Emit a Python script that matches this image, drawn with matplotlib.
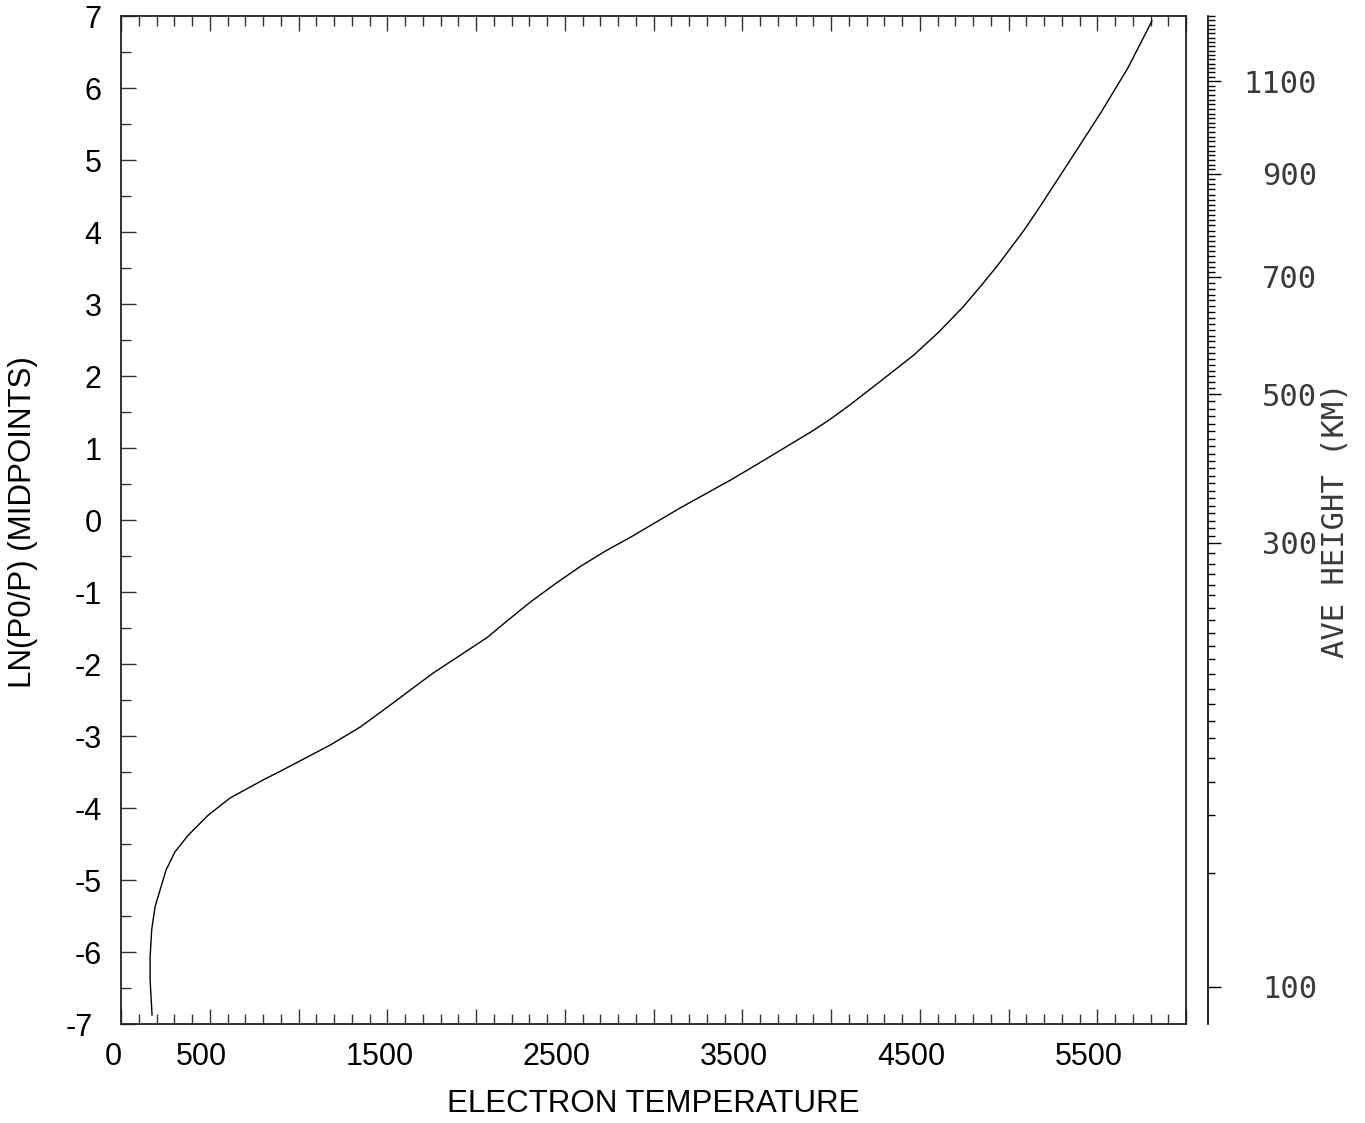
import numpy as np
import matplotlib
matplotlib.use("Agg")
import matplotlib.pyplot as plt
from matplotlib.transforms import ScaledTranslation

# curve: electron temperature vs ln(p0/p)
temp = [175, 164, 164, 173, 192, 220, 254, 304, 378, 491, 615, 801, 897,
        1179, 1348, 1517, 1647, 1759, 1929, 2064, 2176, 2306, 2450, 2588,
        2730, 2870, 3152, 3434, 3575, 3716, 3885, 3990, 4094, 4280, 4466,
        4607, 4748, 4844, 4940, 5086, 5182, 5369, 5521, 5673, 5808]
lnp = [-6.875, -6.39, -6.07, -5.69, -5.37, -5.14, -4.86, -4.61, -4.38, -4.10,
       -3.86, -3.61, -3.49, -3.125, -2.875, -2.57, -2.33, -2.125, -1.85, -1.63,
       -1.40, -1.14, -0.88, -0.645, -0.43, -0.24, 0.17, 0.555, 0.76, 0.97,
       1.22, 1.39, 1.575, 1.93, 2.29, 2.61, 2.97, 3.25, 3.54, 4.02, 4.37, 5.08,
       5.66, 6.28, 6.93]

# height scale (km) on the right, matched to ln(p0/p)
h_cal = [100, 110, 120, 130, 140, 150, 160, 170, 180, 190, 200, 220, 250,
         300, 500, 700, 900, 1100, 1250]
ln_cal = [-6.486, -4.903, -4.097, -3.639, -3.306, -3.028, -2.792, -2.556,
          -2.347, -2.139, -1.931, -1.569, -1.042, -0.319, 1.75, 3.375, 4.806,
          6.097, 7.0]
h_labels = [100, 300, 500, 700, 900, 1100]

x_labels = ['0', '500', '', '1500', '', '2500', '', '3500', '', '4500', '',
            '5500', '']

W, H = 1365, 1123
fig = plt.figure(figsize=(W / 100, H / 100), dpi=100)
ax = fig.add_axes([121 / W, 1 - 1024 / H, (1186 - 121) / W, (1024 - 16) / H])

sans = 'Liberation Sans'
mono = 'DejaVu Sans Mono'

ax.plot(temp, lnp, color='black', lw=1.0)
ax.set_xlim(0, 6000)
ax.set_ylim(-7, 7)

ax.set_xticks(np.arange(0, 6001, 500))
ax.set_xticks(np.arange(0, 6001, 100), minor=True)
ax.set_xticklabels(x_labels, fontsize=22, family=sans)
ax.set_yticks(np.arange(-7, 8, 1))
ax.set_yticks(np.arange(-7, 7.01, 0.5), minor=True)
ax.set_yticklabels([str(v) for v in range(-7, 8)], fontsize=22, family=sans)

ax.tick_params(which='both', direction='in', top=True, right=True,
               color='#333333', width=1.0)
ax.tick_params(which='major', length=11)
ax.tick_params(which='minor', length=7.5)
ax.tick_params(axis='x', pad=13)
ax.tick_params(axis='y', pad=14)
for s in ax.spines.values():
    s.set_linewidth(1.3)
    s.set_color('#222222')

shift = ScaledTranslation(-0.08, 0, fig.dpi_scale_trans)
for lab in ax.get_xticklabels():
    lab.set_transform(lab.get_transform() + shift)
# the bottom label sits a little further left
ylabs = ax.get_yticklabels()
ylabs[0].set_transform(ylabs[0].get_transform()
                       + ScaledTranslation(-0.09, 0, fig.dpi_scale_trans))

fig.text(653 / W, 1 - 1104 / H, 'ELECTRON TEMPERATURE', fontsize=22.5,
         family=sans, ha='center', va='center')
fig.text(23 / W, 1 - 522 / H, 'LN(P0/P) (MIDPOINTS)', fontsize=22.5,
         family=sans, rotation=90, ha='center', va='center')

# right-hand height axis
ax2 = ax.twinx()
ax2.set_ylim(-7, 7)
for k in ['left', 'top', 'bottom']:
    ax2.spines[k].set_visible(False)
ax2.spines['right'].set_position(('outward', 22 * 0.72))
ax2.spines['right'].set_linewidth(1.2)
h_minor = np.arange(100, 1251, 10)
ax2.set_yticks(np.interp(h_labels, h_cal, ln_cal))
ax2.set_yticks(np.interp(h_minor, h_cal, ln_cal), minor=True)
ax2.set_yticklabels([str(h) for h in h_labels], fontsize=22, family=mono,
                    color='#3a3a3a')
ax2.tick_params(which='major', direction='out', length=9.5, width=1.0, pad=69)
ax2.tick_params(which='minor', direction='out', length=5, width=1.0)
for lab in ax2.get_yticklabels():
    lab.set_horizontalalignment('right')

fig.text(1336 / W, 1 - 520 / H, 'AVE HEIGHT (KM)', rotation=90, fontsize=22,
         family=mono, color='#3a3a3a', ha='center', va='center')

fig.savefig('out.png', dpi=100)
